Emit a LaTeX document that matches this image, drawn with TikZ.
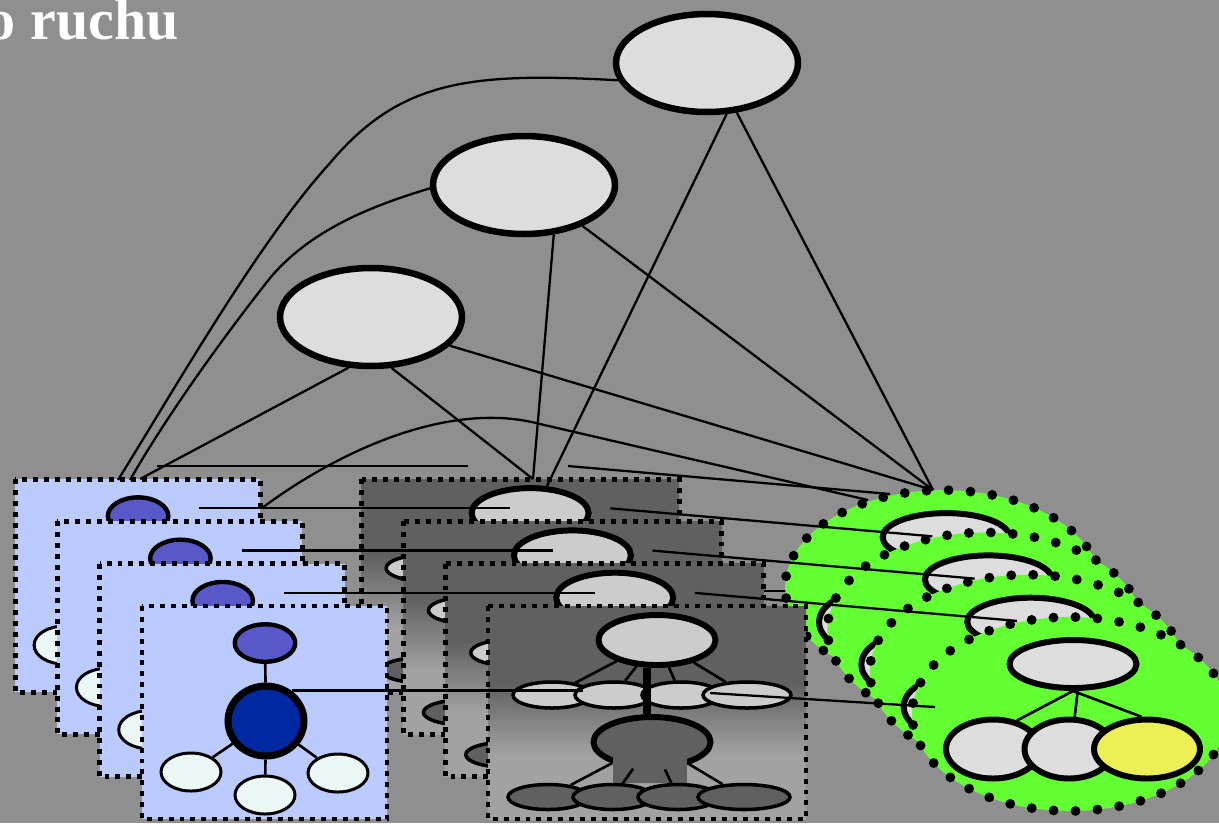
\documentclass[tikz,border=0pt]{standalone}
\usepackage{fontspec}
\setmainfont{Liberation Serif}
\usetikzlibrary{shapes.geometric}
\definecolor{bggray}{RGB}{143,143,143}
\definecolor{lgray}{RGB}{221,221,221}
\definecolor{pblue}{RGB}{188,203,255}
\definecolor{ppurple}{RGB}{88,88,200}
\definecolor{pnavy}{RGB}{0,40,160}
\definecolor{pwhite}{RGB}{234,247,245}
\definecolor{mgray}{RGB}{204,204,204}
\definecolor{mdark}{RGB}{96,96,96}
\definecolor{mlight}{RGB}{162,162,162}
\definecolor{ggreen}{RGB}{100,255,50}
\definecolor{gyellow}{RGB}{236,240,85}
\pgfdeclareverticalshading{mgrad}{100bp}{color(0bp)=(mlight); color(40bp)=(mlight); color(57bp)=(mdark); color(100bp)=(mdark)}

\begin{document}
\begin{tikzpicture}[x=0.02cm,y=-0.02cm,
 link/.style={line width=1.3pt},
 twig/.style={line width=1.5pt},
 topnode/.style={ellipse,draw,fill=lgray,line width=3.7pt,minimum width=3.64cm,minimum height=1.96cm,inner sep=0pt},
 ppanel/.style={fill=pblue,draw,line width=2.8pt,dash pattern=on 2.8pt off 3.4pt},
 mpanel/.style={shade,shading=mgrad,draw,line width=2.8pt,dash pattern=on 2.8pt off 3.4pt},
 purp/.style={ellipse,draw,fill=ppurple,line width=2.5pt,minimum width=1.21cm,minimum height=0.75cm,inner sep=0pt},
 hub/.style={ellipse,draw,fill=pnavy,line width=4pt,minimum width=1.52cm,minimum height=1.4cm,inner sep=0pt},
 leaf/.style={ellipse,draw,fill=pwhite,line width=1.7pt,minimum width=1.2cm,minimum height=0.76cm,inner sep=0pt},
 mbig/.style={ellipse,draw,line width=3.4pt,minimum width=2.34cm,minimum height=1cm,inner sep=0pt},
 msmall/.style={ellipse,draw,line width=2pt,minimum width=1.56cm,minimum height=0.52cm,inner sep=0pt},
 mbar/.style={line width=4.5pt},
 gblob/.style={ellipse,fill=ggreen,draw,line width=5.6pt,dash pattern=on 0pt off 12.5pt,line cap=round,minimum width=6.32cm,minimum height=3.88cm,inner sep=0pt},
 gnode/.style={ellipse,draw,fill=lgray,line width=3.4pt,minimum height=1.18cm,inner sep=0pt}]
\useasboundingbox (0,0) rectangle (1219,823);
\fill[bggray] (0,0) rectangle (1219,823);
\node[font=\bfseries\fontsize{33}{34}\selectfont,text=white,anchor=base east,inner sep=0pt] (title) at (179,39) {o ruchu};
% stub hidden under the layers
\coordinate (s1) at (700,591); \coordinate (s2) at (800,591);
\draw[link] (s1) -- (s2);
% four layers, back to front
\foreach \k in {1,...,4}{
 \pgfmathsetmacro{\off}{(\k-4)*42.3}
 \coordinate (pa\k) at ({283.9+\off},{592.9+\off});
 \coordinate (pb\k) at ({594.9+\off},{592.9+\off});
 \coordinate (qa\k) at ({694.9+\off},{592.9+\off});
 \coordinate (qb\k) at ({1016.9+\off},{620.9+\off});
 \draw[link] (pa\k) -- (pb\k);
 \draw[link] (qa\k) -- (qb\k);
 % left panel
 \draw[ppanel] ({142+\off},{606+\off}) rectangle ++(245,213);
 \node[purp] (pt\k) at ({265+\off},{643+\off}) {};
 \node[hub] (ph\k) at ({266+\off},{721+\off}) {};
 \node[leaf] (pl\k) at ({191+\off},{772+\off}) {};
 \node[leaf] (pm\k) at ({265+\off},{795+\off}) {};
 \node[leaf] (pr\k) at ({338+\off},{773+\off}) {};
 \draw[twig] (pt\k) -- (ph\k) (ph\k) -- (pl\k) (ph\k) -- (pm\k) (ph\k) -- (pr\k);
 % middle panel
 \draw[mpanel] ({488+\off},{606+\off}) rectangle ++(318,213);
 \node[mbig,fill=mgray] (mt\k) at ({657+\off},{640+\off}) {};
 \node[msmall,fill=mgray] (ms\k-1) at ({552+\off},{695+\off}) {};
 \node[msmall,fill=mgray] (ms\k-2) at ({614+\off},{695+\off}) {};
 \node[msmall,fill=mgray] (ms\k-3) at ({681+\off},{695+\off}) {};
 \node[msmall,fill=mgray,minimum width=1.76cm] (ms\k-4) at ({747+\off},{695+\off}) {};
 \node[mbig,fill=mdark] (mb\k) at ({652+\off},{742+\off}) {};
 \fill[mdark] ({613+\off},{753+\off}) rectangle ({687+\off},{783+\off});
 \node[msmall,fill=mdark,minimum width=1.6cm,minimum height=0.5cm] (md\k-1) at ({548+\off},{797+\off}) {};
 \node[msmall,fill=mdark,minimum width=1.6cm,minimum height=0.5cm] (md\k-2) at ({613+\off},{797+\off}) {};
 \node[msmall,fill=mdark,minimum width=1.6cm,minimum height=0.5cm] (md\k-3) at ({678+\off},{797+\off}) {};
 \node[msmall,fill=mdark,minimum width=1.84cm,minimum height=0.5cm] (md\k-4) at ({744+\off},{797+\off}) {};
 \draw[twig] (mt\k) -- (ms\k-1) (mt\k) -- (ms\k-2) (mt\k) -- (ms\k-3) (mt\k) -- (ms\k-4);
 \draw[twig] (mb\k) -- (md\k-1) (mb\k) -- (md\k-2) (mb\k) -- (md\k-3) (mb\k) -- (md\k-4);
 \draw[mbar] ([xshift=-0.2cm]mt\k.south) -- ([xshift=-0.1cm]mb\k.north);
 % green blob
 \node[gblob] (g\k) at ({1070+\off},{714+\off}) {};
 \node[gnode,minimum width=2.54cm,minimum height=0.96cm] (gt\k) at ({1073+\off},{664+\off}) {};
 \node[gnode,minimum width=1.88cm] (gl\k) at ({993+\off},{749+\off}) {};
 \draw[twig] (gt\k.south) -- (gl\k.50);
 \node[gnode,minimum width=1.78cm] (gm\k) at ({1069+\off},{749+\off}) {};
 \draw[twig] (gt\k.-80) -- (gm\k.80);
 \node[gnode,fill=gyellow,minimum width=2.12cm] (gr\k) at ({1147+\off},{749+\off}) {};
 \draw[twig] (gt\k.south) -- (gr\k.100);
}
% front layer links
\coordinate (h1) at (583,693);
\draw[link] (ph4.50) -- (ph4.50 -| h1);
\coordinate (k1) at (710,693); \coordinate (k2) at (935,707);
\draw[link] (k1) -- (k2);
% top nodes
\node[topnode] (ea) at (707,63) {};
\node[topnode] (eb) at (524,185) {};
\node[topnode] (ec) at (371,317) {};
\coordinate (x1) at (118,480); \coordinate (x2) at (130,480); \coordinate (x3) at (140,479);
\coordinate (y1) at (547,486); \coordinate (y2) at (533,479); \coordinate (z) at (933,490);
\coordinate (w1) at (262,508); \coordinate (w2) at (868,500);
\draw[link] (ea.191) .. controls (470,72) and (400,80) .. (330,163) .. controls (260,240) and (180,380) .. (x1);
\draw[link] (eb.182) .. controls (375,205) and (305,230) .. (263,287) .. controls (230,329) and (170,410) .. (x2);
\draw[link] (ea.291) -- (y1) (ea.301) -- (z);
\draw[link] (eb.301) -- (y2) (eb.325) -- (z);
\draw[link] (ec.246) -- (x3) (ec.292) -- (y2) (ec.340) -- (z);
\draw[link] (w1) .. controls (340,450) and (450,400) .. (540,424) -- (w2);
\end{tikzpicture}
\end{document}
